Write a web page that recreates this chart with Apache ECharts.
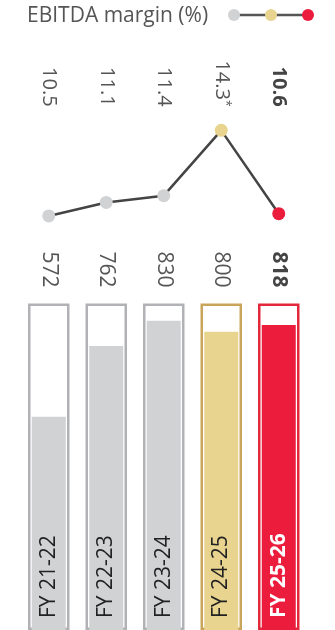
<!DOCTYPE html>
<html>
<head>
<meta charset="utf-8">
<script src="https://cdn.jsdelivr.net/npm/echarts@6/dist/echarts.min.js"></script>
<style>
  html, body { margin: 0; padding: 0; background: #fff; }
  #main { width: 335px; height: 630px; }
</style>
</head>
<body>
<div id="main"></div>
<script>
// data
var categories = ['FY 21-22', 'FY 22-23', 'FY 23-24', 'FY 24-25', 'FY 25-26'];
var ebitda = [572, 762, 830, 800, 818];
var margin = [10.5, 11.1, 11.4, 14.3, 10.6];
var marginNote = ['', '', '', '*', ''];
var fillColors = ['#d1d2d4', '#d1d2d4', '#d1d2d4', '#e8d48f', '#ec1c3c'];
var frameColors = ['#b1b2b5', '#b1b2b5', '#b1b2b5', '#c8a55a', '#e2283a'];

var barMax = 876;
var font = 'Open Sans';
var last = categories.length - 1;

var myChart = echarts.init(document.getElementById('main'), null, { renderer: 'canvas' });

var option = {
    backgroundColor: '#fff',
    animation: false,
    title: {
        text: 'EBITDA margin (%)',
        left: 22,
        top: 1,
        textStyle: { fontFamily: font, fontSize: 21, fontWeight: 'normal', color: '#555' }
    },
    // legend-like marker next to the title
    graphic: [
        { type: 'line', shape: { x1: 234, y1: 15, x2: 308, y2: 15 }, style: { stroke: '#555', lineWidth: 2.5 } },
        { type: 'circle', shape: { cx: 234, cy: 15, r: 6 }, style: { fill: '#d1d2d4' } },
        { type: 'circle', shape: { cx: 271, cy: 15, r: 6 }, style: { fill: '#e8d48f' } },
        { type: 'circle', shape: { cx: 308, cy: 15, r: 6 }, style: { fill: '#ec1c3c' } }
    ],
    grid: [
        { left: 20, right: 27.5, top: 114.6, bottom: 402.8 },
        { left: 20, right: 27.5, top: 303.5, bottom: 0 }
    ],
    xAxis: [
        {
            gridIndex: 0, type: 'category', data: categories, position: 'top',
            axisLine: { show: false }, axisTick: { show: false },
            axisLabel: {
                rotate: 90, margin: 8, interval: 0,
                formatter: function (v, i) {
                    var s = margin[i].toFixed(1);
                    if (i === last) return '{b|' + s + '}';
                    return '{n|' + s + '}' + (marginNote[i] ? '{s|' + marginNote[i] + '}' : '');
                },
                rich: {
                    n: { fontFamily: font, fontSize: 20, color: '#555' },
                    b: { fontFamily: font, fontSize: 20, fontWeight: 'bold', color: '#444' },
                    s: { fontFamily: font, fontSize: 12, color: '#555', verticalAlign: 'top', padding: [0, 0, 8, 0] }
                }
            }
        },
        {
            gridIndex: 1, type: 'category', data: categories,
            axisLine: { show: false }, axisTick: { show: false },
            axisLabel: {
                inside: true, rotate: 90, margin: 12, interval: 0,
                formatter: function (v, i) {
                    return i === last ? '{w|' + v + '}' : '{d|' + v + '}';
                },
                rich: {
                    d: { fontFamily: font, fontSize: 21, color: '#222' },
                    w: { fontFamily: font, fontSize: 21, fontWeight: 'bold', color: '#fff' }
                }
            },
            z: 10
        },
        {
            gridIndex: 1, type: 'category', data: categories, position: 'top',
            axisLine: { show: false }, axisTick: { show: false },
            axisLabel: {
                rotate: 90, margin: 16, interval: 0,
                formatter: function (v, i) {
                    return i === last ? '{b|' + ebitda[i] + '}' : '{n|' + ebitda[i] + '}';
                },
                rich: {
                    n: { fontFamily: font, fontSize: 21, color: '#555' },
                    b: { fontFamily: font, fontSize: 21, fontWeight: 'bold', color: '#444' }
                }
            }
        }
    ],
    yAxis: [
        { gridIndex: 0, type: 'value', min: 10, max: 15, show: false },
        { gridIndex: 1, type: 'value', min: 0, max: barMax, show: false }
    ],
    series: [
        {
            type: 'line',
            xAxisIndex: 0, yAxisIndex: 0,
            data: margin.map(function (v, i) {
                return { value: v, itemStyle: { color: fillColors[i] } };
            }),
            symbol: 'circle',
            symbolSize: 13,
            lineStyle: { color: '#444', width: 2.5 },
            z: 3
        },
        {
            type: 'bar',
            xAxisIndex: 2, yAxisIndex: 1,
            barWidth: 41.5,
            data: categories.map(function (c, i) {
                return {
                    value: barMax,
                    itemStyle: { color: '#fff', borderColor: frameColors[i], borderWidth: 2.5 }
                };
            }),
            z: 1
        },
        {
            type: 'bar',
            xAxisIndex: 1, yAxisIndex: 1,
            barWidth: 34,
            data: ebitda.map(function (v, i) {
                return { value: v, itemStyle: { color: fillColors[i] } };
            }),
            z: 2
        }
    ]
};

myChart.setOption(option);
</script>
</body>
</html>
